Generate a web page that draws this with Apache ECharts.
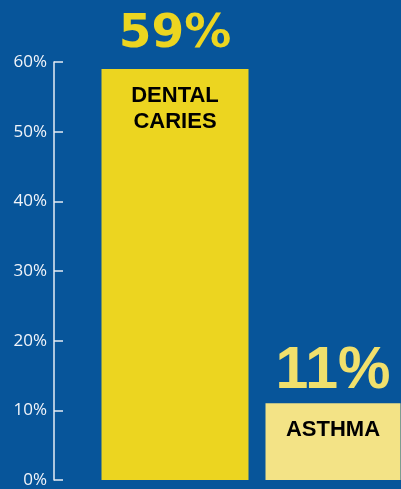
<!DOCTYPE html>
<html>
<head>
<meta charset="utf-8">
<script src="https://cdn.jsdelivr.net/npm/echarts@6/dist/echarts.min.js"></script>
<style>
  html, body { margin: 0; padding: 0; background: #07559a; }
  #chart { width: 401px; height: 489px; }
</style>
</head>
<body>
<div id="chart"></div>
<script>
// data
const categories = ['DENTAL\nCARIES', 'ASTHMA'];
const values = [59, 11];
const valueLabels = ['59%', '11%'];
const yTicks = [0, 10, 20, 30, 40, 50, 60];

const barColors = ['#ecd520', '#f3e386'];
const topColors = ['#ecd520', '#f1e06c'];
const topFonts = [
  { fontFamily: 'DejaVu Sans', fontSize: 47, distance: 11 },
  { fontFamily: 'Liberation Sans', fontSize: 59, distance: 2 }
];
const barWidths = [147, 135];

let chart = echarts.init(document.getElementById('chart'));

// 每根柱子一条 x 轴，宽度各自独立
let xAxes = [];
let series = [];
categories.forEach((cat, i) => {
  xAxes.push({
    type: 'category',
    data: categories,
    show: false
  });
  let d = categories.map((c, j) => (j === i ? values[j] : '-'));
  // 柱子 + 柱内名称
  series.push({
    type: 'bar',
    xAxisIndex: i,
    data: d,
    barWidth: barWidths[i],
    barGap: '-100%',
    itemStyle: { color: barColors[i] },
    label: {
      show: true,
      position: 'insideTop',
      distance: 14,
      formatter: p => p.name,
      color: '#000',
      fontFamily: 'Liberation Sans',
      fontWeight: 'bold',
      fontSize: 22,
      lineHeight: 26
    },
    z: 2
  });
  // 透明柱，只用来放顶部数值
  series.push({
    type: 'bar',
    xAxisIndex: i,
    data: d,
    barWidth: barWidths[i],
    barGap: '-100%',
    itemStyle: { color: 'rgba(0,0,0,0)' },
    label: {
      show: true,
      position: 'top',
      formatter: p => valueLabels[p.dataIndex],
      color: topColors[i],
      fontWeight: 'bold',
      ...topFonts[i]
    },
    z: 3
  });
});

let option = {
  backgroundColor: '#07559a',
  animation: false,
  grid: {
    left: 96,
    width: 316,
    top: 62,
    bottom: 9,
    outerBoundsMode: 'none'
  },
  xAxis: xAxes,
  yAxis: {
    type: 'value',
    min: yTicks[0],
    max: yTicks[yTicks.length - 1],
    interval: 10,
    offset: 42,
    axisLine: {
      show: true,
      lineStyle: { color: '#e6ecf4', width: 1.5 }
    },
    axisTick: {
      show: true,
      inside: true,
      length: 9,
      lineStyle: { color: '#e6ecf4', width: 1.5 }
    },
    axisLabel: {
      margin: 7,
      color: '#f2f5fa',
      fontFamily: 'Open Sans',
      fontSize: 17,
      formatter: '{value}%'
    },
    splitLine: { show: false }
  },
  series: series
};

chart.setOption(option, true);
</script>
</body>
</html>
